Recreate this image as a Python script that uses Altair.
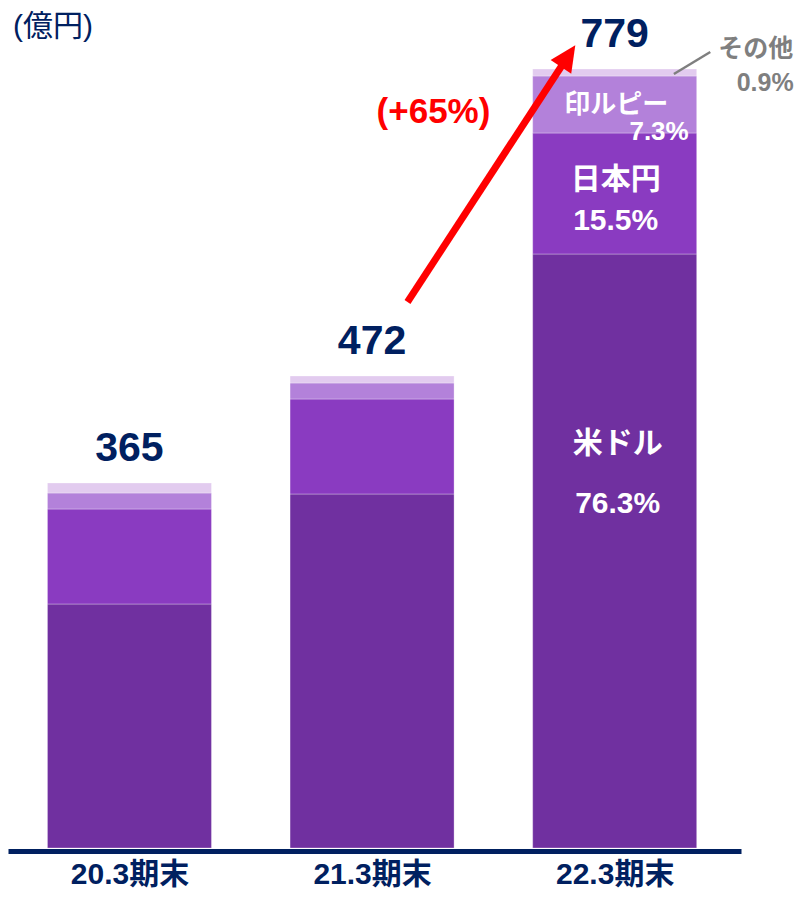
import json
import altair as alt
import pandas as pd

# ---------------- data ----------------
categories = ["20.3期末", "21.3期末", "22.3期末"]
positions = [0, 1, 2]
currencies = ["米ドル", "日本円", "印ルピー", "その他"]
usd = [244, 354, 594]
jpy = [95, 95, 121]
inr = [16, 16, 57]
other = [10, 7, 7]
totals = [365, 472, 779]
total_labels = ["365", "472", "779"]
share_labels_22 = ["76.3%", "15.5%", "7.3%", "0.9%"]
growth_label = "(+65%)"
unit_label = "(億円)"
arrow_x = [1.146, 1.808]
arrow_y = [546, 792]
leader_x = [2.244, 2.394]
leader_y = [774, 796]
colors = ["#7030A0", "#8A3BC1", "#B381DA", "#E2CBEF"]

FONT = "Liberation Sans, Arial, Noto Sans CJK JP"
NAVY = "#002060"
GRAY = "#7F7F7F"

rows = []
for i, p in enumerate(positions):
    for j, (cur, vals) in enumerate(zip(currencies, [usd, jpy, inr, other])):
        rows.append({"pos": p, "cat": categories[i], "currency": cur,
                     "value": vals[i], "order": j})
df = pd.DataFrame(rows)

df_tot = pd.DataFrame({"pos": positions, "total": totals, "label": total_labels})

x_scale = alt.Scale(domain=[-0.48, 2.5], nice=False, zero=False)
y_scale = alt.Scale(domain=[0, 840], nice=False, zero=True)

label_expr = json.dumps(categories, ensure_ascii=False) + "[datum.value]"

bars = alt.Chart(df).mark_bar(
    size=164, stroke="white", strokeWidth=1, strokeOpacity=0.3
).encode(
    x=alt.X("pos:Q", scale=x_scale,
            axis=alt.Axis(values=positions, labelExpr=label_expr, title=None,
                          grid=False, ticks=False, tickSize=0,
                          domainColor=NAVY, domainWidth=5, offset=3,
                          labelFontSize=30, labelFontWeight="bold",
                          labelColor=NAVY, labelFont=FONT, labelPadding=8,
                          labelFlush=False, labelOverlap=False)),
    y=alt.Y("value:Q", stack="zero", scale=y_scale, axis=None),
    color=alt.Color("currency:N", scale=alt.Scale(domain=currencies, range=colors),
                    legend=None),
    order=alt.Order("order:Q"),
)

totals_text = alt.Chart(df_tot).mark_text(
    dy=-34, baseline="middle", fontSize=41, fontWeight="bold", color=NAVY, font=FONT
).encode(x="pos:Q", y="total:Q", text="label:N")

# annotations inside / beside the 22.3 bar
usd_top = usd[2]
jpy_top = usd[2] + jpy[2]
inr_top = jpy_top + inr[2]
oth_top = inr_top + other[2]


def ann(text, yval, dx, dy, size, color, align="center"):
    d = pd.DataFrame({"pos": [positions[2]], "y": [yval], "t": [text]})
    return alt.Chart(d).mark_text(
        dx=dx, dy=dy, align=align, baseline="middle", fontSize=size,
        fontWeight="bold", color=color, font=FONT
    ).encode(x="pos:Q", y="y:Q", text="t:N")


anns = [
    ann(currencies[0], usd_top, 3, 190, 30, "white"),
    ann(share_labels_22[0], usd_top, 3, 250, 30, "white"),
    ann(currencies[1], jpy_top, 1, 47, 30, "white"),
    ann(share_labels_22[1], jpy_top, 1, 88, 30, "white"),
    ann(currencies[2], inr_top, 1.5, 29, 26, "white"),
    ann(share_labels_22[2], inr_top, 74, 56, 26, "white", "right"),
    ann(currencies[3], oth_top, 141, -20, 25, GRAY),
    ann(share_labels_22[3], oth_top, 179, 14, 25, GRAY, "right"),
]

leader_df = pd.DataFrame({"x": [leader_x[0]], "y": [leader_y[0]],
                          "x2": [leader_x[1]], "y2": [leader_y[1]]})
leader = alt.Chart(leader_df).mark_rule(color=GRAY, strokeWidth=2.5).encode(
    x="x:Q", y="y:Q", x2="x2:Q", y2="y2:Q")

arrow_df = pd.DataFrame({"x": [arrow_x[0]], "y": [arrow_y[0]],
                         "x2": [arrow_x[1]], "y2": [arrow_y[1]]})
arrow_shaft = alt.Chart(arrow_df).mark_rule(color="#FF0000", strokeWidth=7).encode(
    x="x:Q", y="y:Q", x2="x2:Q", y2="y2:Q")
head_df = pd.DataFrame({"x": [arrow_x[1]], "y": [arrow_y[1]]})
arrow_head = alt.Chart(head_df).mark_point(
    shape="M0,-1L0.95,1L-0.95,1Z", size=676, filled=True, fill="#FF0000",
    stroke="#FF0000", strokeWidth=0, opacity=1, angle=33.5
).encode(x="x:Q", y="y:Q")

growth_df = pd.DataFrame({"x": [arrow_x[0]], "y": [arrow_y[0]], "t": [growth_label]})
growth = alt.Chart(growth_df).mark_text(
    dx=26, dy=-190, baseline="middle", fontSize=35, fontWeight="bold",
    color="#FF0000", font=FONT
).encode(x="x:Q", y="y:Q", text="t:N")

unit_df = pd.DataFrame({"t": [unit_label]})
unit = alt.Chart(unit_df).mark_text(
    align="left", baseline="middle", fontSize=30, color=NAVY, font=FONT
).encode(x=alt.value(5), y=alt.value(19), text="t:N")

chart = alt.layer(
    bars, totals_text, *anns, leader, arrow_shaft, arrow_head, growth, unit
).properties(
    width=733, height=840,
    autosize=alt.AutoSizeParams(type="none"),
    padding={"left": 0, "top": 0, "right": 56, "bottom": 43},
).configure_view(strokeWidth=0)

chart.save("out.html", embed_options={"renderer": "svg", "actions": False})
